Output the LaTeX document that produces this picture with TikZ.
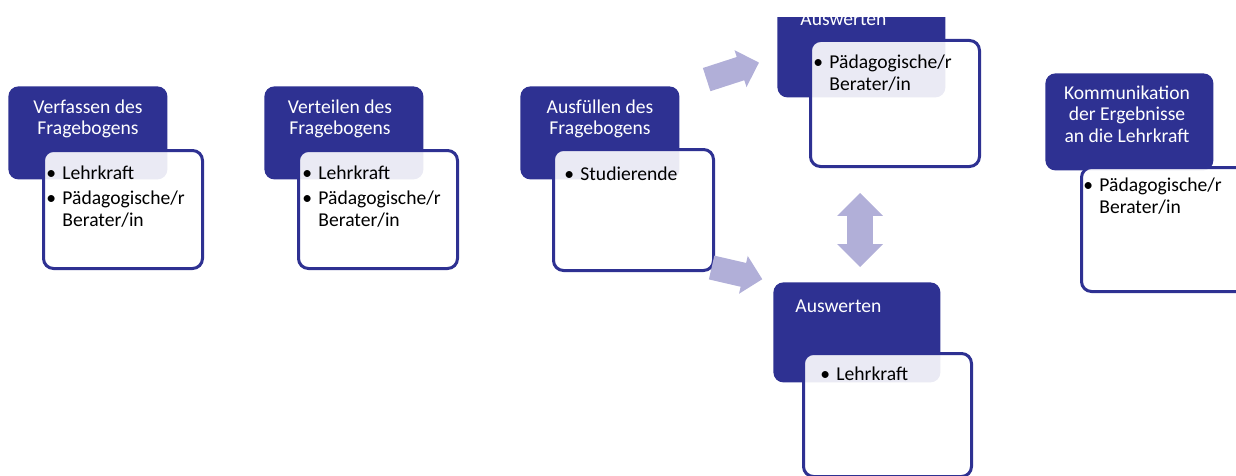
\documentclass[tikz,border=0pt]{standalone}
\usepackage{fontspec}
\setmainfont{Carlito}
\usetikzlibrary{shapes.arrows}

\definecolor{phaseblue}{RGB}{46,49,146}
\definecolor{flowlilac}{RGB}{177,175,216}

% lists and titles as top-aligned tabulars: the base anchor sits on the first line
\newcommand{\bul}[1]{\makebox[8pt][l]{\textbullet}#1}
\newcommand{\hang}[1]{\hspace*{8pt}#1}
\newcommand{\itemlist}[1]{\begin{tabular}[t]{@{}l@{}}#1\end{tabular}}
\newcommand{\headlines}[1]{\begin{tabular}[t]{@{}c@{}}#1\end{tabular}}

\tikzset{
	phase/.style 2 args = {fill = phaseblue, rounded corners = 5pt, anchor = north west, inner sep = 0pt,
		minimum width = #1, minimum height = #2},
	detail/.style 2 args = {draw = phaseblue, line width = 1.5pt, fill = white, fill opacity = 0.9,
		rounded corners = 5pt, anchor = north west, inner sep = 0pt, minimum width = #1, minimum height = #2},
	head/.style = {text = white, inner sep = 0pt, font = \fontsize{9.8}{10.8}\selectfont},
	items/.style = {inner sep = 0pt, anchor = base west, font = \fontsize{9.8}{11.2}\selectfont},
	flow/.style = {single arrow, fill = flowlilac, inner xsep = 0pt, inner ysep = 5.9pt,
		single arrow head extend = 3.6pt}
}

\begin{document}
\begin{tikzpicture}[x = 0.5pt, y = -0.5pt]

	\useasboundingbox (0, 0) rectangle (1236, 476);
	\clip (0, 18) rectangle (1236, 476);

	% Phases (dark boxes)

	\node [phase = {79.5pt}{46.5pt}] (ph1) at (8, 86) {};
	\node [phase = {79.5pt}{46.5pt}] (ph2) at (264, 86) {};
	\node [phase = {79.5pt}{46.5pt}] (ph3) at (520, 86) {};
	\node [phase = {84pt}{50pt}] (ph4) at (777, -3) {};
	\node [phase = {83.5pt}{50pt}] (ph5) at (773, 282) {};
	\node [phase = {84pt}{48.5pt}] (ph6) at (1045, 73) {};

	% Who takes part (white boxes)

	\node [detail = {79.5pt}{59pt}] (bx1) at (42, 149) {};
	\node [detail = {79.5pt}{59pt}] (bx2) at (297, 149) {};
	\node [detail = {80pt}{60.5pt}] (bx3) at (552, 148) {};
	\node [detail = {84.5pt}{63pt}] (bx4) at (809, 39) {};
	\node [detail = {84pt}{61.5pt}] (bx5) at (802, 352) {};
	\node [detail = {84.5pt}{62pt}] (bx6) at (1080, 166) {};

	% Titles

	\node [head, anchor = base] (ti1) at (88, 113) {\headlines{Verfassen des\\Fragebogens}};
	\node [head, anchor = base] (ti2) at (340, 113) {\headlines{Verteilen des\\Fragebogens}};
	\node [head, anchor = base] (ti3) at (600, 113) {\headlines{Ausfüllen des\\Fragebogens}};
	\node [head, anchor = base west] (ti4) at (800, 26) {Auswerten};
	\node [head, anchor = base west] (ti5) at (795, 312) {Auswerten};
	\node [head, anchor = base] (ti6) at (1127, 99) {\headlines{Kommunikation\\der Ergebnisse\\an die Lehrkraft}};

	% Lists

	\node [items] (li1) at (46, 179) {\itemlist{\bul{Lehrkraft}\\[1.4pt] \bul{Pädagogische/r}\\ \hang{Berater/in}}};
	\node [items] (li2) at (302, 179) {\itemlist{\bul{Lehrkraft}\\[1.4pt] \bul{Pädagogische/r}\\ \hang{Berater/in}}};
	\node [items] (li3) at (564, 180) {\itemlist{\bul{Studierende}}};
	\node [items] (li4) at (813, 68.5) {\itemlist{\bul{Pädagogische/r}\\ \hang{Berater/in}}};
	\node [items] (li5) at (820, 380) {\itemlist{\bul{Lehrkraft}}};
	\node [items] (li6) at (1083, 191.5) {\itemlist{\bul{Pädagogische/r}\\ \hang{Berater/in}}};

	% Block arrows

	\node [flow, minimum height = 27.5pt, rotate = 18] (ar1) at (727, 73) {};
	\node [flow, minimum height = 26pt, rotate = -13] (ar2) at (731, 272) {};
	\node [double arrow, fill = flowlilac, inner xsep = 0pt, inner ysep = 6.25pt, minimum height = 37pt,
		double arrow head extend = 5pt, rotate = 90] (ar3) at (860, 230) {};

\end{tikzpicture}
\end{document}
